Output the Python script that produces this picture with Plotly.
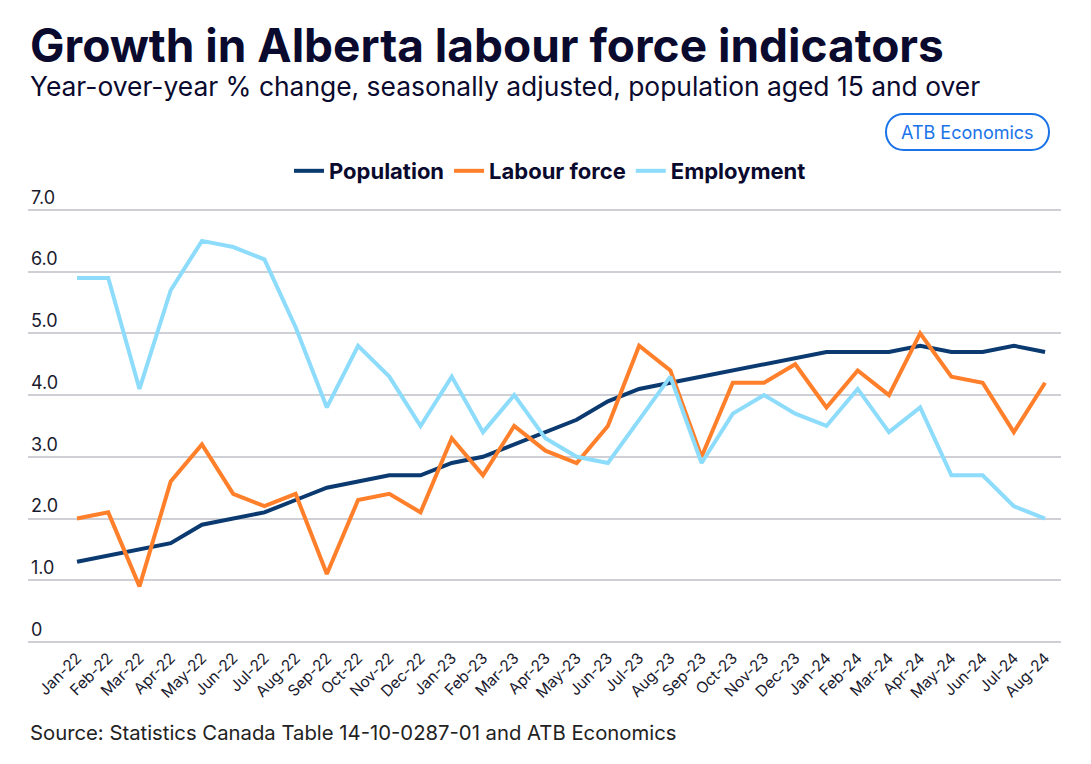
import plotly.graph_objects as go

# months shown along the x axis
MONTHS = ["Jan-22", "Feb-22", "Mar-22", "Apr-22", "May-22", "Jun-22", "Jul-22", "Aug-22",
          "Sep-22", "Oct-22", "Nov-22", "Dec-22", "Jan-23", "Feb-23", "Mar-23", "Apr-23",
          "May-23", "Jun-23", "Jul-23", "Aug-23", "Sep-23", "Oct-23", "Nov-23", "Dec-23",
          "Jan-24", "Feb-24", "Mar-24", "Apr-24", "May-24", "Jun-24", "Jul-24", "Aug-24"]

# year-over-year % change
POPULATION = [1.3, 1.4, 1.5, 1.6, 1.9, 2.0, 2.1, 2.3, 2.5, 2.6, 2.7, 2.7, 2.9, 3.0, 3.2, 3.4,
              3.6, 3.9, 4.1, 4.2, 4.3, 4.4, 4.5, 4.6, 4.7, 4.7, 4.7, 4.8, 4.7, 4.7, 4.8, 4.7]
LABOUR_FORCE = [2.0, 2.1, 0.9, 2.6, 3.2, 2.4, 2.2, 2.4, 1.1, 2.3, 2.4, 2.1, 3.3, 2.7, 3.5, 3.1,
                2.9, 3.5, 4.8, 4.4, 3.0, 4.2, 4.2, 4.5, 3.8, 4.4, 4.0, 5.0, 4.3, 4.2, 3.4, 4.2]
EMPLOYMENT = [5.9, 5.9, 4.1, 5.7, 6.5, 6.4, 6.2, 5.1, 3.8, 4.8, 4.3, 3.5, 4.3, 3.4, 4.0, 3.3,
              3.0, 2.9, 3.6, 4.3, 2.9, 3.7, 4.0, 3.7, 3.5, 4.1, 3.4, 3.8, 2.7, 2.7, 2.2, 2.0]

Y_TICKS = [0, 1, 2, 3, 4, 5, 6, 7]
Y_TICK_TEXT = ["0", "1.0", "2.0", "3.0", "4.0", "5.0", "6.0", "7.0"]

FONT = "Inter"
NAVY = "#0a0a2e"

# the page puts the plot 8px in from the top-left corner, so everything is laid out 8px up/left
OFF = 8
# y range has room below 0 and above 7 so the edge gridline and the "7.0" label show
Y_LO, Y_HI = -0.05, 7.6
UNIT = 61.7  # pixels per 1.0 on the y axis
PLOT_L, PLOT_W = 28 - OFF, 1033
PLOT_T = 210 - (Y_HI - 7) * UNIT - OFF
PLOT_H = (Y_HI - Y_LO) * UNIT


def py(pixel_y):
    # screenshot pixel row -> paper y
    return (PLOT_T + PLOT_H - (pixel_y - OFF)) / PLOT_H


def px(pixel_x):
    # screenshot pixel column -> paper x
    return (pixel_x - OFF - PLOT_L) / PLOT_W


fig = go.Figure()

series = [("Population", POPULATION, "#0b3a70"),
          ("Labour force", LABOUR_FORCE, "#ff7f2a"),
          ("Employment", EMPLOYMENT, "#8ddcfb")]

for name, values, colour in series:
    fig.add_trace(go.Scatter(x=MONTHS, y=values, mode="lines", name=name,
                             line=dict(color=colour, width=4)))

fig.update_layout(
    width=1091, height=764,
    margin=dict(l=PLOT_L, r=1091 - PLOT_L - PLOT_W, t=round(PLOT_T),
                b=round(764 - PLOT_T - PLOT_H), autoexpand=False),
    plot_bgcolor="white", paper_bgcolor="white",
    font=dict(family=FONT, color="#222222"),
    showlegend=True,
    legend=dict(orientation="h", xanchor="center", x=px(550), yanchor="middle", y=py(171),
                font=dict(size=22, color=NAVY, family=FONT, weight="bold"),
                bgcolor="rgba(0,0,0,0)", itemwidth=30, tracegroupgap=0),
)

fig.update_xaxes(type="category", range=[-1.57, 31.51], tickangle=-45, automargin=False,
                 tickfont=dict(size=15.5, color="#1a1a2e"), showgrid=False,
                 showline=False, ticks="")
fig.update_yaxes(range=[Y_LO, Y_HI], tickvals=Y_TICKS, ticktext=Y_TICK_TEXT, automargin=False,
                 ticklabelposition="inside top", tickfont=dict(size=18, color="#1a1a2e"),
                 showgrid=True, gridcolor="#cfcfd6", gridwidth=1.5, zeroline=False,
                 showline=False, ticks="")

# title, subtitle and source
fig.add_annotation(text="<b>Growth in Alberta labour force indicators</b>",
                   xref="paper", yref="paper", x=px(28), y=py(45),
                   xanchor="left", yanchor="middle", showarrow=False,
                   font=dict(size=46, color=NAVY, family=FONT))
fig.add_annotation(text="Year-over-year % change, seasonally adjusted, population aged 15 and over",
                   xref="paper", yref="paper", x=px(28), y=py(86),
                   xanchor="left", yanchor="middle", showarrow=False,
                   font=dict(size=26.4, color=NAVY, family=FONT))
fig.add_annotation(text="Source: Statistics Canada Table 14-10-0287-01 and ATB Economics",
                   xref="paper", yref="paper", x=px(28), y=py(732),
                   xanchor="left", yanchor="middle", showarrow=False,
                   font=dict(size=20.3, color="#222222", family=FONT))

# ATB Economics badge
badge_x, badge_y = px(967.5), py(132)
fig.add_shape(type="path", xref="paper", yref="paper", xsizemode="pixel", ysizemode="pixel",
              xanchor=badge_x, yanchor=badge_y,
              path="M -63.5,-18 L 63.5,-18 C 87.5,-18 87.5,18 63.5,18 L -63.5,18 "
                   "C -87.5,18 -87.5,-18 -63.5,-18 Z",
              line=dict(color="#1a73e8", width=2), fillcolor="white")
fig.add_annotation(text="ATB Economics", xref="paper", yref="paper", x=badge_x, y=badge_y,
                   xanchor="center", yanchor="middle", showarrow=False,
                   font=dict(size=18, color="#1a73e8", family=FONT))

fig.write_html("out.html")
